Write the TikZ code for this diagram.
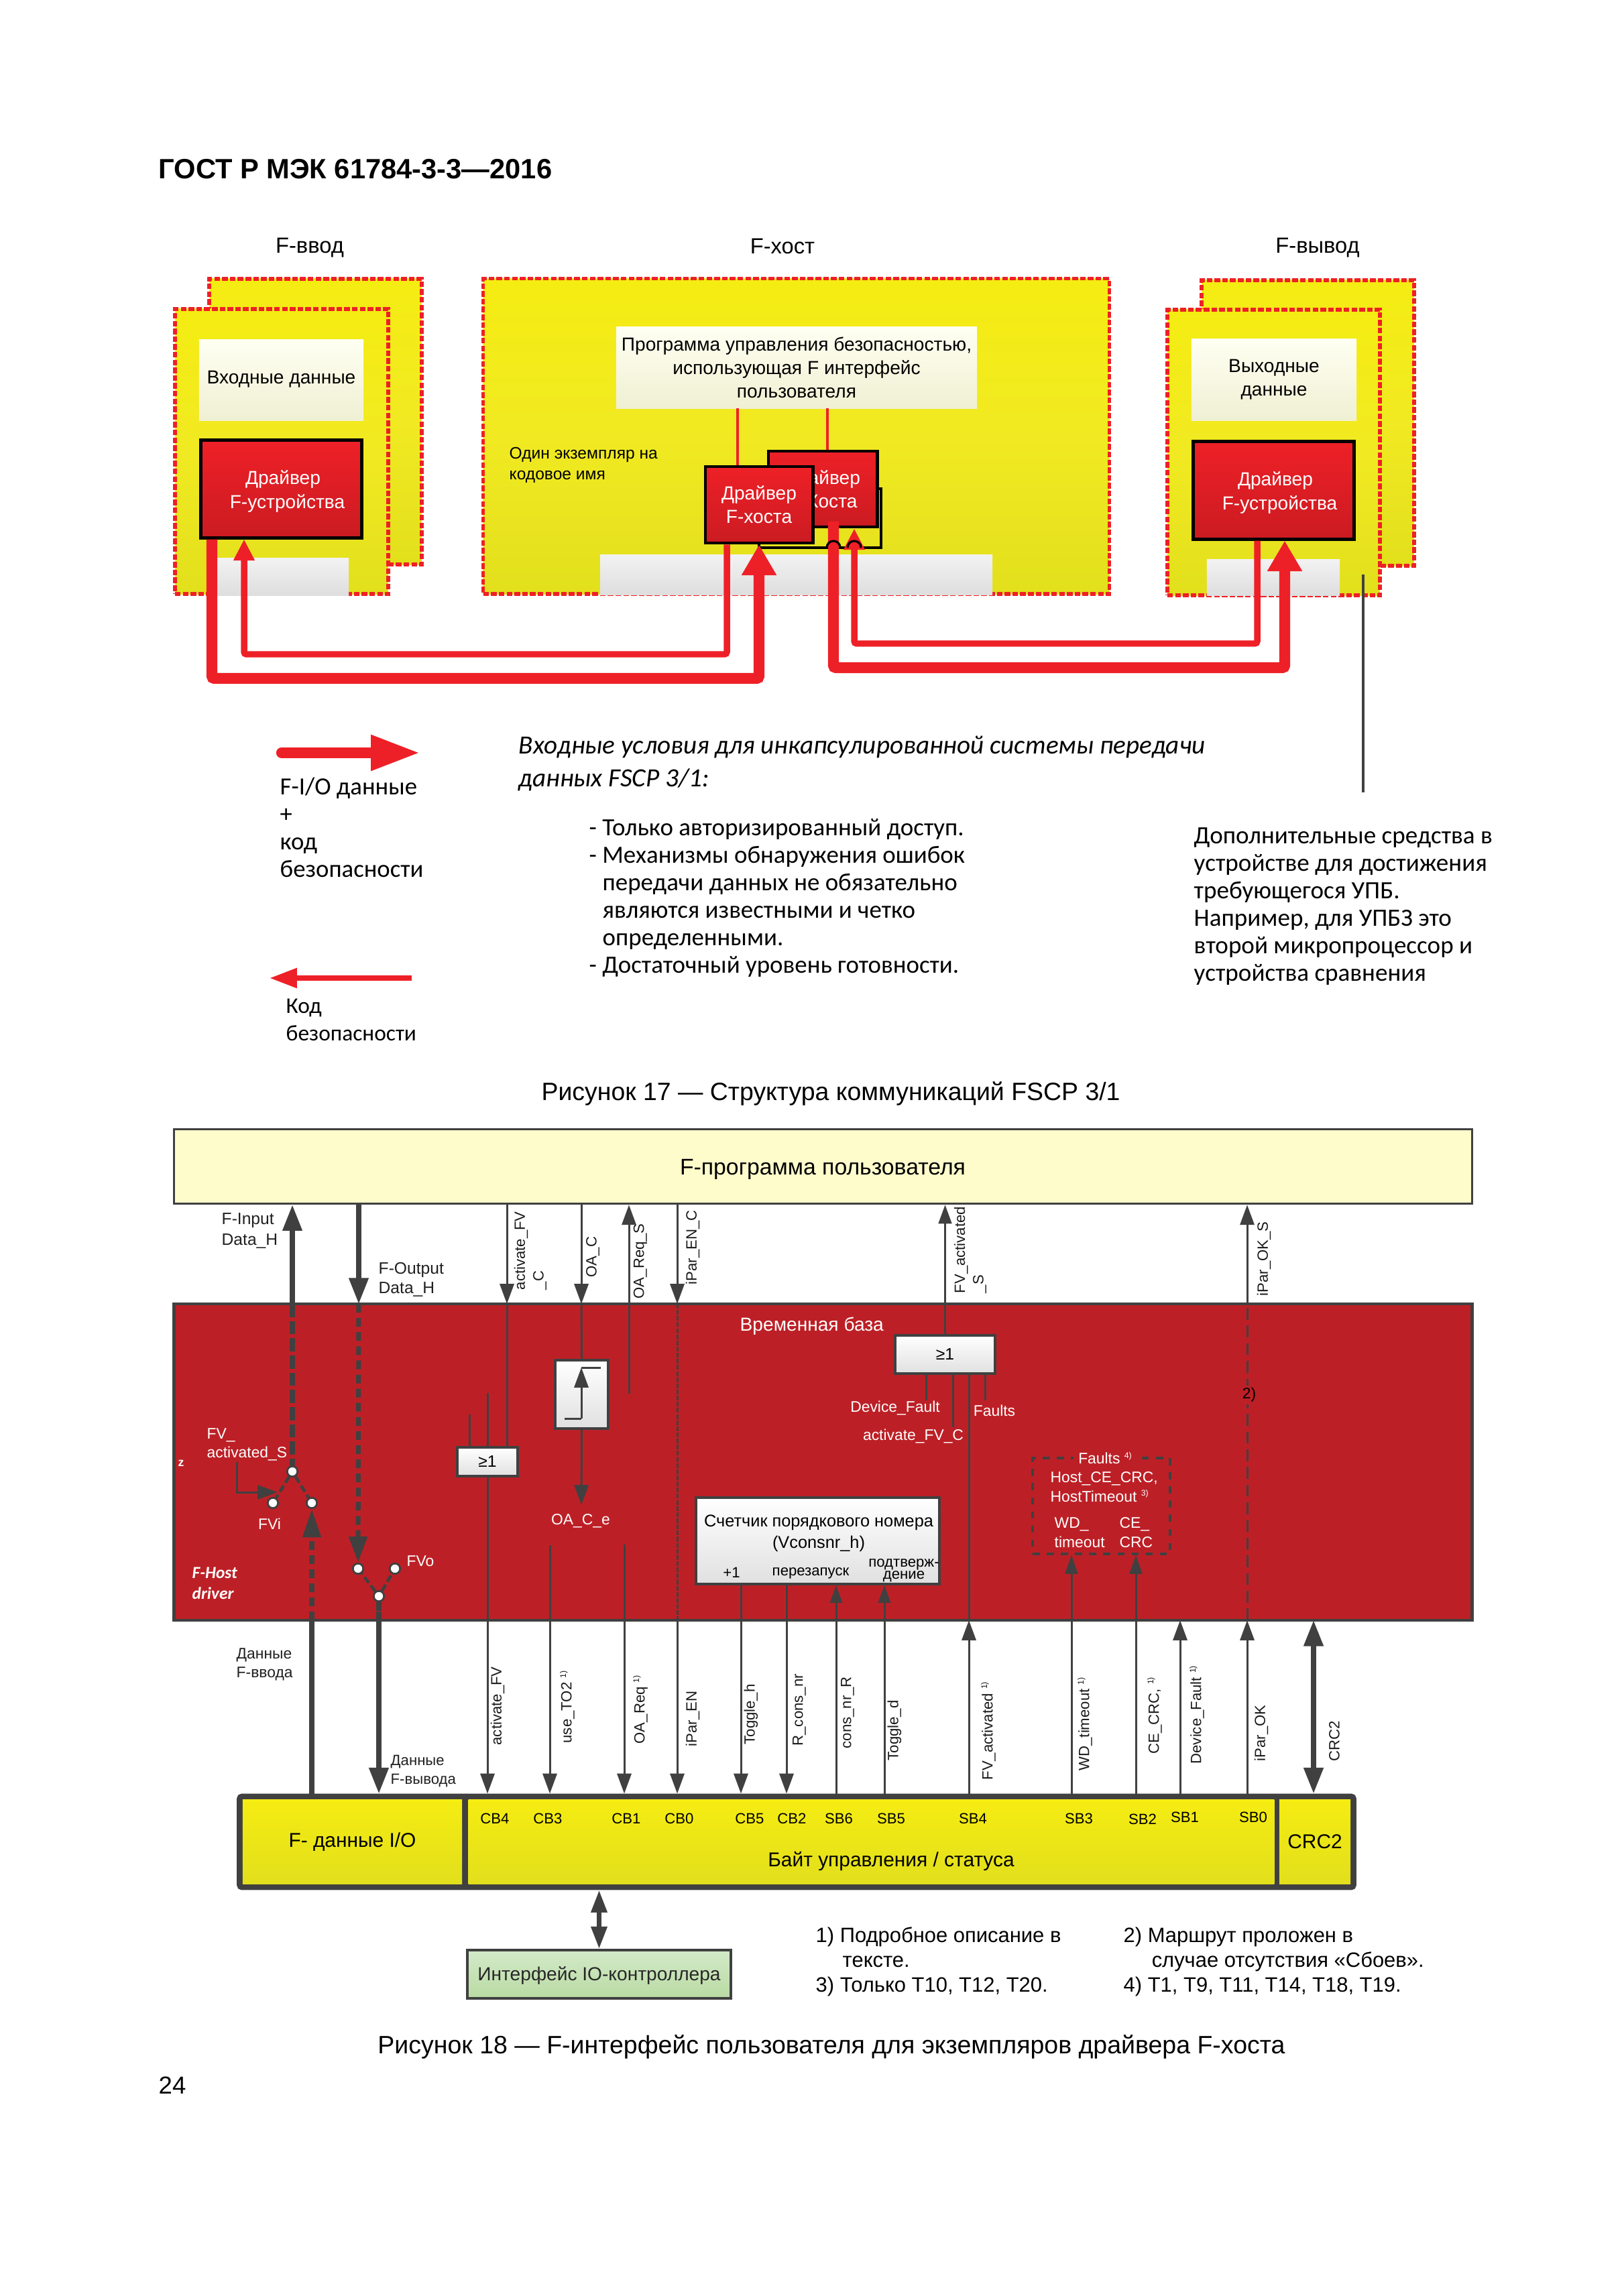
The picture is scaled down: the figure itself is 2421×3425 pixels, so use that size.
\documentclass[tikz,border=0pt]{standalone}
\usepackage{fontspec}
\setmainfont{Liberation Sans}
\newfontfamily\calfont{Carlito}
\usetikzlibrary{arrows.meta}
\definecolor{fred}{HTML}{EE2027}
\definecolor{fdark}{HTML}{404040}
\definecolor{hostred}{HTML}{BC2026}
\definecolor{yeltop}{HTML}{F5EC12}
\definecolor{yelmid}{HTML}{F1EA22}
\definecolor{yelbot}{HTML}{E2DF1C}
\newcommand\szfont[1]{\fontsize{#1}{\dimexpr #1pt*5/4\relax}\selectfont}
\newcommand\supa[1]{\raisebox{0.7ex}{\fontsize{3.5}{4}\selectfont #1}}
\tikzset{
  sz/.style={font=\szfont{#1}},
  calsz/.style={font=\calfont\fontsize{#1}{11.65}\selectfont},
  fzone/.style={draw=fred,line width=1.5pt,dash pattern=on 2.4pt off 0.9pt,top color=yeltop,bottom color=yelbot,middle color=yelmid,inner sep=0pt},
  paperbox/.style={top color=white!50!yellow!10!white,bottom color=yellow!12!white!94!black,align=center,sz=8,inner sep=0pt},
  greybox/.style={top color=black!5,bottom color=black!13,inner sep=0pt},
  drvbox/.style={draw=black,line width=1.4pt,top color=fred,bottom color=fred!85!black,text=white,align=center,sz=8,inner sep=0pt},
  whitebox/.style={draw=fdark,line width=1pt,top color=white,bottom color=black!12,inner sep=0pt,align=center,sz=7},
  ttl/.style={sz=9.3,inner sep=0pt},
  lab/.style={anchor=west,align=left,inner sep=0pt},
  wht/.style={text=white,sz=6.5,inner sep=0pt,align=left},
  vlabel/.style={rotate=90,anchor=west,align=left,inner sep=0pt,sz=6.3,text=fdark!40!black,xshift=0.02cm},
  cbl/.style={sz=6.3,inner sep=0pt},
  sigline/.style={draw=fdark,line width=0.85pt},
  sig/.style={sigline,-{Triangle[length=8.5pt,width=6pt]}},
  fatsig/.style={draw=fdark,line width=2pt,-{Triangle[length=11pt,width=8pt]}},
  fatdash/.style={draw=fdark,line width=2.5pt,dash pattern=on 5.6pt off 1.7pt},
  fatdashb/.style={draw=fdark,line width=2pt,dash pattern=on 3.7pt off 2.3pt},
  swdash/.style={draw=fdark,line width=1.3pt,dash pattern=on 3pt off 1.5pt},
  contact/.style={circle,draw=fdark,fill=white,line width=0.8pt,minimum size=4.4pt,inner sep=0pt},
  bigred/.style={draw=fred,line width=4.6pt,rounded corners=1pt,-{Triangle[length=13pt,width=14pt]}},
  midred/.style={draw=fred,line width=2.7pt,rounded corners=1pt,-{Triangle[length=9pt,width=8.5pt]}},
  barbox/.style={draw=none,top color=yeltop,bottom color=yelbot,inner sep=0pt,align=center,sz=8.5},
}
\begin{document}
\begin{tikzpicture}[x=0.01cm,y=-0.01cm]
\useasboundingbox (0,0) rectangle (2421,3425);
\node[anchor=west,inner sep=0pt,font=\bfseries\szfont{11.85}] (head) at (236,252) {ГОСТ Р МЭК 61784-3-3—2016};

% F-input
\node[ttl] (tin) at (462,370) {F-ввод};
\node[fzone,minimum width=3.17cm,minimum height=4.26cm] (inback) at (470.5,629) {};
\node[fzone,minimum width=3.18cm,minimum height=4.25cm] (infront) at (420,673.5) {};
\node[paperbox,minimum width=2.45cm,minimum height=1.20cm] (indata) at (419.5,567) {};
\node[inner sep=0pt,sz=8] (indatat) at (419.5,566) {Входные данные};
\node[greybox,minimum width=1.97cm,minimum height=0.55cm] (ingrey) at (421.5,860.5) {};
\node[drvbox,minimum width=2.39cm,minimum height=1.45cm] (indrv) at (419.5,729.5) {};
\node[text=white,align=center,inner sep=0pt,sz=8] (indrvt) at (422,733) {Драйвер\\\hspace*{0.13cm}F-устройства};

% F-host
\node[ttl] (thost) at (1167,367) {F-хост};
\node[fzone,minimum width=9.33cm,minimum height=4.70cm] (host) at (1187.5,651) {};
\node[paperbox,minimum width=5.38cm,minimum height=1.21cm] (prog) at (1188,548.5) {Программа управления безопасностью,\\использующая F интерфейс\\пользователя};
\node[greybox,minimum width=5.85cm,minimum height=0.59cm] (hostgrey) at (1187.5,857.5) {};
\node[lab,sz=7] (once) at (759,694) {Один экземпляр на\\кодовое имя};
\node[draw=black,line width=0.9pt,minimum width=1.82cm,minimum height=0.88cm,inner sep=0pt] (hostfr) at (1223,773) {};
\node[drvbox,minimum width=1.62cm,minimum height=1.13cm] (drvb) at (1227,729.5) {Драйвер\\F-Хоста};
\node[drvbox,minimum width=1.60cm,minimum height=1.14cm] (drva) at (1132,753) {Драйвер\\F-хоста};
\coordinate (pa) at (1100,609);
\coordinate (pb) at (1234,609);
\draw[draw=fred,line width=1pt] (pa) -- (pa |- drva.north);
\draw[draw=fred,line width=1pt] (pb) -- (pb |- drvb.north);

% F-output
\node[ttl] (tout) at (1965,370) {F-вывод};
\node[fzone,minimum width=3.17cm,minimum height=4.26cm] (outback) at (1950.5,631) {};
\node[fzone,minimum width=3.17cm,minimum height=4.26cm] (outfront) at (1899.5,675) {};
\node[paperbox,minimum width=2.46cm,minimum height=1.21cm] (outdata) at (1900,566.5) {Выходные\\данные};
\node[greybox,minimum width=1.98cm,minimum height=0.53cm] (outgrey) at (1899,861.5) {};
\node[drvbox,minimum width=2.39cm,minimum height=1.45cm] (outdrv) at (1899.5,731.5) {};
\node[text=white,align=center,inner sep=0pt,sz=8] (outdrvt) at (1902,735) {Драйвер\\\hspace*{0.13cm}F-устройства};

% safety code and I/O paths
\coordinate (c1) at (1084,976);
\coordinate (c2) at (364,976);
\draw[midred] (drva.south -| c1) -- (c1) -- (c2) -- (c2 |- indrv.south);
\coordinate (c3) at (316,1012);
\coordinate (c4) at (1132,1012);
\draw[bigred] (indrv.south -| c3) -- (c3) -- (c4) -- (c4 |- drva.south);
\coordinate (c5) at (1875,960);
\coordinate (c6) at (1274,960);
\draw[midred] (outdrv.south -| c5) -- (c5) -- (c6) -- (c6 |- drvb.south);
\coordinate (c7) at (1243,996);
\coordinate (c8) at (1916,996);
\coordinate (c9) at (1243,778);
\draw[bigred] (c9) -- (c7) -- (c8) -- (c8 |- outdrv.south);
\coordinate (hopa) at (1233,817);
\coordinate (hopb) at (1264,817);
\draw[line width=0.9pt] (hopa) arc[start angle=180,end angle=0,radius=2.85pt];
\draw[line width=0.9pt] (hopb) arc[start angle=180,end angle=0,radius=2.85pt];
\coordinate (note) at (2033,857);
\coordinate (noteb) at (2033,1182);
\draw[draw=fdark,line width=0.9pt] (note) -- (noteb);

% legend
\coordinate (lga) at (420,1123);
\coordinate (lgb) at (627,1123);
\draw[draw=fred,line width=4.6pt,line cap=round,-{Triangle[length=21pt,width=14pt]}] (lga) -- (lgb);
\node[lab,anchor=north west,calsz=10.45] (lgt) at (417,1159) {F-I/O данные\\+\\код\\безопасности};
\coordinate (lgc) at (614,1459);
\coordinate (lgd) at (402,1459);
\draw[draw=fred,line width=2.2pt,-{Triangle[length=11.6pt,width=8pt]}] (lgc) -- (lgd);
\node[lab,anchor=north west,calsz=9.5] (lgs) at (426,1489) {Код\\безопасности};
\node[lab,anchor=north west,font=\calfont\itshape\szfont{11.14}] (cond) at (773,1097) {Входные условия для инкапсулированной системы передачи\\данных FSCP 3/1:};
\node[lab,anchor=north west,calsz=10.5] (cond1) at (878,1221) {- Только авторизированный доступ.\\- Механизмы обнаружения ошибок\\\hspace*{0.2cm}передачи данных не обязательно\\\hspace*{0.2cm}являются известными и четко\\\hspace*{0.2cm}определенными.\\- Достаточный уровень готовности.};
\node[lab,anchor=north west,calsz=10.55] (extra) at (1780,1234) {Дополнительные средства в\\устройстве для достижения\\требующегося УПБ.\\Например, для УПБЗ это\\второй микропроцессор и\\устройства сравнения};
\node[sz=10.64,inner sep=0pt] (cap17) at (1239,1631) {Рисунок 17 — Структура коммуникаций FSCP 3/1};

% F-host driver
\node[draw=fdark,line width=1pt,fill=yellow!20!white,minimum width=19.35cm,minimum height=1.11cm,inner sep=0pt,sz=9.6] (fprog) at (1227.5,1740) {};
\node[sz=9.6,inner sep=0pt] (fprogt) at (1227,1744) {F-программа пользователя};
\node[draw=fdark,line width=1.3pt,fill=hostred,minimum width=19.35cm,minimum height=4.72cm,inner sep=0pt] (driver) at (1227.5,2181) {};
\node[draw=fdark,fill=fdark,line width=2.5pt,rounded corners=1pt,minimum width=16.60cm,minimum height=1.35cm,inner sep=0pt] (barout) at (1188,2747.5) {};
\node[barbox,minimum width=3.27cm,minimum height=1.25cm] (bario) at (525.5,2747.5) {F- данные I/O};
\node[barbox,minimum width=12.01cm,minimum height=1.25cm] (barst) at (1299.5,2747.5) {};
\node[barbox,minimum width=1.06cm,minimum height=1.25cm] (barcrc) at (1961,2747.5) {CRC2};
\node[sz=8.5,inner sep=0pt] (barlab) at (1329,2776) {Байт управления / статуса};

\node[anchor=west,text=white,inner sep=0pt,sz=8] (tbase) at (1103,1978) {Временная база};
\node[lab,sz=7,text=fdark!50!black] (finl) at (330,1836) {F-Input\\Data\_H};
\node[lab,font=\fontsize{7}{8.2}\selectfont,text=fdark!50!black] (foutl) at (564,1909) {F-Output\\Data\_H};
\node[lab,font=\fontsize{6.5}{7.8}\selectfont,text=fdark!50!black] (dinl) at (352,2483) {Данные\\F-ввода};
\node[lab,font=\fontsize{6.3}{7.8}\selectfont,text=fdark!50!black] (doutl) at (582,2642) {Данные\\F-вывода};

% input switch
\node[contact] (sitop) at (436,2195) {};
\node[contact] (sil) at (407,2242) {};
\node[contact] (sir) at (465,2242) {};
\draw[swdash] (sitop) -- (sil);
\draw[swdash] (sitop) -- (sir);
\coordinate (inbot) at (465,2417);
\coordinate (intop) at (436,1945);
\draw[fatsig] (intop) -- (intop |- fprog.south);
\draw[fatdash] (intop) -- (sitop);
\draw[fatdashb,-{Triangle[length=12pt,width=7.5pt]}] (inbot) -- (sir);
\draw[draw=fdark,line width=2pt] (inbot |- barout.north) -- (inbot);
\coordinate (fva) at (353,2181);
\coordinate (fvb) at (353,2226);
\coordinate (fvc) at (414,2226);
\draw[sig] (fva) -- (fvb) -- (fvc);
\node[wht,anchor=west] (fvl) at (308,2155) {FV\_\\activated\_S};
\node[wht] (fvi) at (402,2273) {FVi};
\node[text=white,font=\bfseries\szfont{5},inner sep=0pt] (zmark) at (270,2183) {z};
\node[lab,text=white,font=\calfont\bfseries\itshape\szfont{7.2}] (hostdrv) at (286,2362) {F-Host\\driver};

% output switch
\node[contact] (sol) at (534,2340) {};
\node[contact] (sor) at (589,2340) {};
\node[contact] (sobot) at (565,2381) {};
\draw[swdash] (sobot) -- (sol);
\draw[swdash] (sobot) -- (sor);
\coordinate (outtop) at (535,1945);
\coordinate (outbot) at (565,2404);
\draw[fatsig] (outtop |- fprog.south) -- (outtop);
\draw[fatdashb,-{Triangle[length=11pt,width=7.5pt]}] (outtop) -- (sol);
\draw[fatdashb] (sobot) -- (outbot);
\draw[fatsig] (outbot) -- (outbot |- barout.north);
\node[wht] (fvo) at (627,2329) {FVo};

% OR gate left
\node[whitebox,minimum width=0.90cm,minimum height=0.43cm] (orl) at (727,2180.5) {≥1};
\coordinate (ora) at (700,2110);
\coordinate (orb) at (727,2078);
\draw[sigline] (ora) -- (ora |- orl.north);
\draw[sigline] (orb) -- (orb |- orl.north);
\coordinate (fvc1) at (756,1945);
\draw[sig] (fvc1 |- fprog.south) -- (fvc1);
\draw[sigline] (fvc1) -- (fvc1 |- orl.north);
\draw[sig] (orl.south) -- (orl.south |- barout.north);
\node[vlabel] (lfvc) at (791,1927) {activate\_FV\\\_C};
\node[vlabel] (lfv) at (742,2606) {activate\_FV};

% OA
\node[whitebox,minimum width=0.79cm,minimum height=1.02cm] (oabox) at (867.5,2080) {};
\coordinate (oac) at (867,1945);
\draw[sig] (oac |- fprog.south) -- (oac);
\draw[sigline] (oac) -- (oabox.north);
\coordinate (oae) at (867,2245);
\draw[sig] (oabox.south) -- (oae);
\coordinate (sta) at (842,2116);
\coordinate (stb) at (867,2116);
\coordinate (stc) at (867,2040);
\coordinate (std) at (896,2040);
\draw[sigline] (sta) -- (stb);
\draw[sig] (stb) -- (stc);
\draw[sigline] (stc) -- (std);
\node[wht] (oael) at (866,2269) {OA\_C\_e};
\node[vlabel] (loac) at (884,1908) {OA\_C};
\coordinate (oareq) at (938,2079);
\draw[sig] (oareq) -- (oareq |- fprog.south);
\node[vlabel] (loas) at (955,1940) {OA\_Req\_S};
\coordinate (ipen) at (1010,1945);
\draw[sig] (ipen |- fprog.south) -- (ipen);
\coordinate (ipenb) at (1010,2417);
\draw[sigline,dash pattern=on 2pt off 0.6pt] (ipen) -- (ipenb);
\draw[sig] (ipenb) -- (ipenb |- barout.north);
\node[vlabel] (lipc) at (1033,1919) {iPar\_EN\_C};
\coordinate (uto) at (820,2305);
\draw[sig] (uto) -- (uto |- barout.north);
\coordinate (oar) at (931,2304);
\draw[sig] (oar) -- (oar |- barout.north);
\node[vlabel] (luto) at (846,2603) {use\_TO2 \supa{1)}};
\node[vlabel] (loar) at (955,2604) {OA\_Req \supa{1)}};
\node[vlabel] (lipe) at (1033,2608) {iPar\_EN};

% counter
\node[whitebox,minimum width=3.63cm,minimum height=1.29cm] (cnt) at (1219.5,2298.5) {};
\node[sz=7.2,inner sep=0pt,align=center] (cntt) at (1221,2287) {Счетчик порядкового номера\\(Vconsnr\_h)};
\node[sz=6.3,inner sep=0pt] (cnta) at (1091,2346) {+1};
\node[sz=6.3,inner sep=0pt] (cntb) at (1209,2347) {перезапуск};
\node[inner sep=0pt,align=center,font=\fontsize{6.3}{5}\selectfont] (cntc) at (1348,2343) {подтверж-\\дение};
\coordinate (tgh) at (1105,2363);
\coordinate (rcn) at (1173,2363);
\coordinate (crn) at (1247,2676);
\coordinate (tgd) at (1319,2676);
\draw[sig] (tgh) -- (tgh |- barout.north);
\draw[sig] (rcn) -- (rcn |- barout.north);
\draw[sigline,-{Triangle[length=7.5pt,width=5.2pt]}] (crn) -- (crn |- cnt.south);
\draw[sigline,-{Triangle[length=7.5pt,width=5.2pt]}] (tgd) -- (tgd |- cnt.south);
\node[vlabel] (ltgh) at (1120,2605) {Toggle\_h};
\node[vlabel] (lrcn) at (1192,2607) {R\_cons\_nr};
\node[vlabel] (lcrn) at (1264,2611) {cons\_nr\_R};
\node[vlabel] (ltgd) at (1334,2629) {Toggle\_d};

% OR gate right
\node[whitebox,minimum width=1.49cm,minimum height=0.57cm] (orr) at (1409.5,2020.5) {≥1};
\draw[sigline,-{Triangle[length=8pt,width=5.6pt]}] (orr.north) -- (orr.north |- fprog.south);
\node[vlabel] (lfvs) at (1447,1932) {FV\_activated\\\_S};
\coordinate (dfa) at (1381,2089);
\coordinate (dfb) at (1421,2129);
\coordinate (dfc) at (1469,2089);
\draw[sigline] (dfa |- orr.south) -- (dfa);
\draw[sigline] (dfb |- orr.south) -- (dfb);
\draw[sigline] (dfc |- orr.south) -- (dfc);
\node[wht] (ldf) at (1335,2100) {Device\_Fault};
\node[wht] (lac) at (1362,2142) {activate\_FV\_C};
\node[wht] (lfa) at (1483,2104) {Faults};
\coordinate (fva2) at (1445,2417);
\draw[sigline] (fva2) -- (fva2 |- orr.south);
\draw[sig] (fva2 |- barout.north) -- (fva2);
\node[vlabel] (lfva) at (1474,2658) {FV\_activated \supa{1)}};

% faults
\node[draw=fdark,line width=1pt,dashed,minimum width=2.05cm,minimum height=1.43cm,inner sep=0pt] (flt) at (1642.5,2246.5) {};
\node[fill=hostred,text=white,sz=6.5,inner sep=2pt] (fltt) at (1648,2175) {Faults \supa{4)}};
\node[wht,anchor=west] (flta) at (1566,2218) {Host\_CE\_CRC,\\HostTimeout \supa{3)}};
\node[wht,anchor=west] (fltb) at (1572,2286) {WD\_\\timeout};
\node[wht,anchor=west] (fltc) at (1669,2286) {CE\_\\CRC};
\coordinate (wdt) at (1598,2676);
\coordinate (cec) at (1694,2676);
\draw[sigline,-{Triangle[length=8pt,width=5.4pt]}] (wdt) -- (wdt |- flt.south);
\draw[sigline,-{Triangle[length=8pt,width=5.4pt]}] (cec) -- (cec |- flt.south);
\node[vlabel] (lwdt) at (1618,2644) {WD\_timeout \supa{1)}};
\node[vlabel] (lcec) at (1722,2619) {CE\_CRC, \supa{1)}};
\coordinate (dvf) at (1760,2417);
\draw[sig] (dvf |- barout.north) -- (dvf);
\node[vlabel] (ldvf) at (1785,2634) {Device\_Fault \supa{1)}};
\coordinate (ipo) at (1860,2417);
\coordinate (ipt) at (1860,1945);
\draw[sig] (ipo |- barout.north) -- (ipo);
\draw[sigline,dash pattern=on 5pt off 2.5pt] (ipo) -- (ipt);
\draw[sig] (ipt) -- (ipt |- fprog.south);
\node[fill=hostred,sz=6.5,inner sep=1pt] (n2) at (1863,2081) {2)};
\node[vlabel] (lipo) at (1881,2630) {iPar\_OK};
\node[vlabel] (lips) at (1885,1936) {iPar\_OK\_S};
\coordinate (crc) at (1959,2417);
\draw[draw=fdark,line width=2.1pt,{Triangle[length=11pt,width=8pt]}-{Triangle[length=11pt,width=8pt]}] (crc) -- (crc |- barout.north);
\node[vlabel] (lcrc) at (1990,2630) {CRC2};

% status bits
\node[cbl] (cb4) at (738,2713) {CB4};
\node[cbl] (cb3) at (817,2713) {CB3};
\node[cbl] (cb1) at (934,2713) {CB1};
\node[cbl] (cb0) at (1013,2713) {CB0};
\node[cbl] (cb5) at (1118,2713) {CB5};
\node[cbl] (cb2) at (1181,2713) {CB2};
\node[cbl] (sb6) at (1251,2713) {SB6};
\node[cbl] (sb5) at (1329,2713) {SB5};
\node[cbl] (sb4) at (1451,2713) {SB4};
\node[cbl] (sb3) at (1609,2713) {SB3};
\node[cbl] (sb2) at (1704,2714) {SB2};
\node[cbl] (sb1) at (1767,2711) {SB1};
\node[cbl] (sb0) at (1869,2711) {SB0};

% IO controller
\definecolor{iotop}{HTML}{D3E9C9}
\definecolor{iobot}{HTML}{B9DBA2}
\node[draw=fdark,line width=1pt,top color=iotop,bottom color=iobot,minimum width=3.93cm,minimum height=0.72cm,inner sep=0pt] (ioc) at (893.5,2945) {};
\node[sz=8,inner sep=0pt,text=fdark!60!black] (ioct) at (893.5,2947) {Интерфейс IO-контроллера};
\draw[draw=fdark,line width=2pt,{Triangle[length=9.5pt,width=6.5pt]}-{Triangle[length=9.5pt,width=6.5pt]}] (ioc.north |- barout.south) -- (ioc.north);

% notes
\node[lab,anchor=north west,font=\fontsize{8.8}{10.5}\selectfont] (fn1) at (1216,2874) {1) Подробное описание в\\\hspace*{0.4cm}тексте.\\3) Только T10, T12, T20.};
\node[lab,anchor=north west,font=\fontsize{8.8}{10.5}\selectfont] (fn2) at (1675,2874) {2) Маршрут проложен в\\\hspace*{0.42cm}случае отсутствия «Сбоев».\\4) T1, T9, T11, T14, T18, T19.};
\node[sz=10.66,inner sep=0pt] (cap18) at (1240,3053) {Рисунок 18 — F-интерфейс пользователя для экземпляров драйвера F-хоста};
\node[sz=10.4,inner sep=0pt,anchor=west] (pageno) at (236,3111) {24};
\end{tikzpicture}
\end{document}
